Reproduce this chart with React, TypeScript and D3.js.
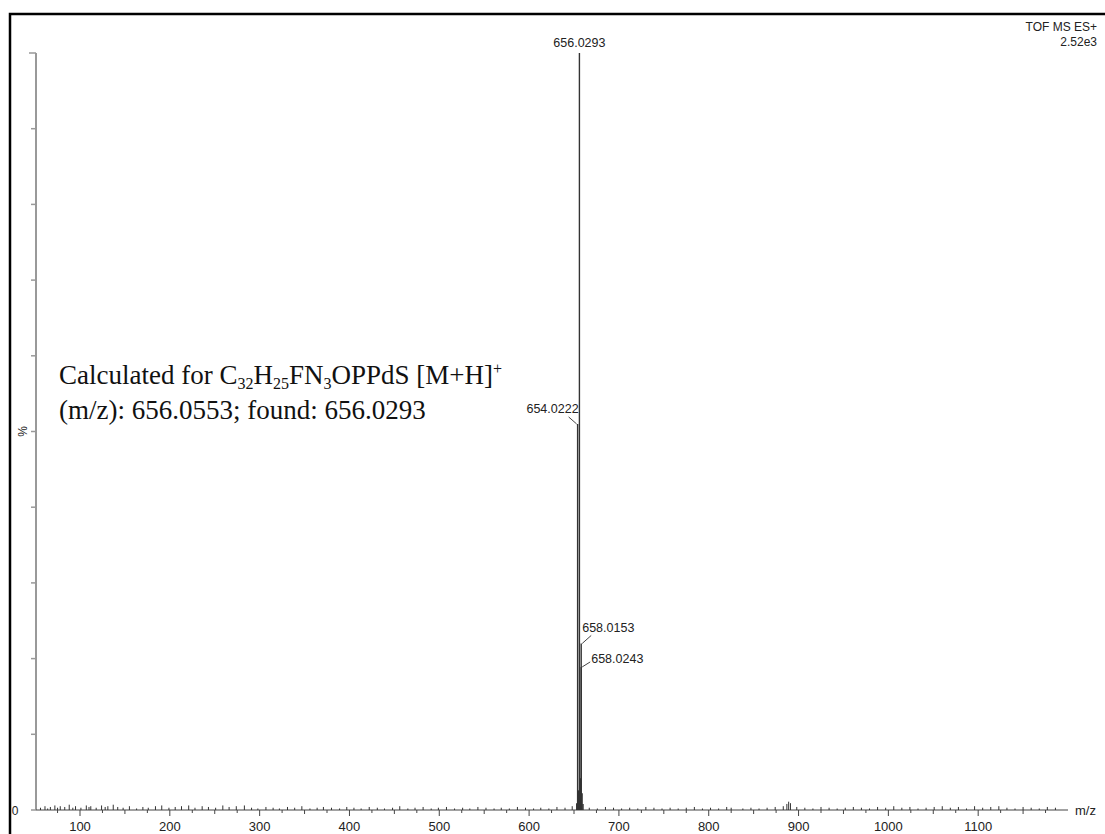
import React from 'react';
import * as d3 from 'd3';

// main isotope cluster (m/z, relative intensity %)
const peakMz = [653.03, 654.0222, 655.03, 656.0293, 657.03, 658.0153, 658.0243, 659.02, 660.02];
const peakInt = [0.9, 51, 2.6, 100, 4.2, 22, 18.9, 2.2, 0.8];

// labelled peaks and which way the label hangs
const labels = [
  { mz: 656.0293, text: '656.0293', side: 'top' },
  { mz: 654.0222, text: '654.0222', side: 'left' },
  { mz: 658.0153, text: '658.0153', side: 'right' },
  { mz: 658.0243, text: '658.0243', side: 'rightLow' },
];

// baseline noise [m/z, %]
const noise: [number, number][] = [
  [56, 0.3], [61, 0.5], [64, 0.2], [67, 0.4], [72, 0.6], [75, 0.3], [78, 0.5], [83, 0.4], [88, 0.7], [92, 0.3],
  [95, 0.5], [101, 0.3], [107, 0.6], [110, 0.4], [112, 0.5], [118, 0.3], [124, 0.6], [128, 0.4], [131, 0.5],
  [137, 0.7], [142, 0.4], [148, 0.3], [155, 0.5], [163, 0.2], [170, 0.4], [176, 0.3], [184, 0.5], [191, 0.6],
  [199, 0.3], [206, 0.4], [213, 0.5], [221, 0.6], [228, 0.3], [236, 0.5], [243, 0.4], [251, 0.3], [259, 0.6],
  [266, 0.4], [274, 0.5], [283, 0.6], [291, 0.3], [298, 0.2], [307, 0.4], [315, 0.3], [322, 0.2], [331, 0.4],
  [339, 0.3], [347, 0.5], [356, 0.2], [364, 0.3], [371, 0.4], [380, 0.3], [389, 0.2], [397, 0.4], [405, 0.3],
  [413, 0.2], [422, 0.4], [431, 0.3], [439, 0.2], [448, 0.3], [456, 0.5], [465, 0.2], [473, 0.3], [482, 0.4],
  [491, 0.2], [499, 0.3], [508, 0.4], [517, 0.2], [526, 0.3], [534, 0.2], [543, 0.4], [552, 0.3], [561, 0.2],
  [569, 0.3], [578, 0.2], [587, 0.4], [596, 0.3], [605, 0.2], [613, 0.3], [622, 0.2], [631, 0.4], [640, 0.3],
  [648, 0.5], [667, 0.3], [676, 0.2], [685, 0.4], [694, 0.3], [703, 0.2], [712, 0.3], [721, 0.2], [730, 0.4],
  [739, 0.3], [748, 0.2], [757, 0.3], [766, 0.2], [775, 0.3], [784, 0.4], [793, 0.2], [802, 0.3], [811, 0.2],
  [820, 0.4], [825, 0.3], [838, 0.2], [847, 0.3], [856, 0.2], [865, 0.3], [874, 0.4], [883, 0.5], [887, 0.8],
  [889, 1.1], [891, 0.9], [898, 0.4], [907, 0.3], [916, 0.2], [925, 0.4], [934, 0.3], [943, 0.2], [952, 0.3],
  [961, 0.4], [970, 0.3], [979, 0.2], [988, 0.4], [997, 0.3], [1006, 0.5], [1015, 0.3], [1024, 0.4], [1033, 0.2],
  [1042, 0.3], [1051, 0.4], [1060, 0.5], [1069, 0.3], [1078, 0.4], [1087, 0.2], [1096, 0.5], [1105, 0.3],
  [1114, 0.4], [1123, 0.5], [1132, 0.3], [1141, 0.2], [1150, 0.4], [1159, 0.3], [1168, 0.2], [1177, 0.4], [1186, 0.3],
];

const xMajor = [100, 200, 300, 400, 500, 600, 700, 800, 900, 1000, 1100];

const W = 1105;
const H = 834;

const App = () => {
  const x = d3.scaleLinear().domain([51, 1200]).range([36, 1068]);
  const y = d3.scaleLinear().domain([0, 100]).range([810, 53]);
  const yTicks = d3.range(0, 101, 10);
  const xMinor = d3.range(75, 1200, 25).filter((v) => v % 100 !== 0);

  const sans = 'Liberation Sans, Arial, sans-serif';
  const serif = 'Liberation Serif, Times New Roman, serif';
  const peakColor = '#333';

  return (
    <svg width={W} height={H} style={{ position: 'absolute', left: 0, top: 0, background: '#fff' }}>
      <rect x={10} y={14} width={W + 20} height={H + 20} fill="none" stroke="#000" strokeWidth={2.5} />

      {/* y axis */}
      <line x1={36} x2={36} y1={y(100)} y2={y(0)} stroke="#999" strokeWidth={2} />
      {yTicks.map((t) => (
        <line key={t} x1={t === 100 ? 29 : 31} x2={36} y1={y(t)} y2={y(t)} stroke="#999" strokeWidth={1.5} />
      ))}
      <text x={15} y={y(0) + 5} fontFamily={sans} fontSize={12} textAnchor="middle" fill="#222">0</text>
      <text transform={`translate(27,${y(50)}) rotate(-90)`} fontFamily={sans} fontSize={12} textAnchor="middle" fill="#222">%</text>

      {/* x axis */}
      <line x1={36} x2={1068} y1={y(0)} y2={y(0)} stroke="#444" strokeWidth={1} />
      {xMinor.map((t) => (
        <line key={t} x1={x(t)} x2={x(t)} y1={y(0)} y2={y(0) + (t % 50 === 0 ? 4 : 3)} stroke="#444" strokeWidth={1} />
      ))}
      {xMajor.map((t) => (
        <g key={t}>
          <line x1={x(t)} x2={x(t)} y1={y(0)} y2={y(0) + 6} stroke="#444" strokeWidth={1} />
          <text x={x(t)} y={y(0) + 21} fontFamily={sans} fontSize={13} textAnchor="middle" fill="#222">{t}</text>
        </g>
      ))}
      <text x={1075} y={y(0) + 5} fontFamily={sans} fontSize={13} fill="#222">m/z</text>

      {/* noise */}
      {noise.map(([m, v], i) => (
        <line key={i} x1={x(m)} x2={x(m)} y1={y(0)} y2={y(v)} stroke="#333" strokeWidth={1} />
      ))}

      {/* peaks */}
      {peakMz.map((m, i) => (
        <line key={m} x1={x(m)} x2={x(m)} y1={y(0)} y2={y(peakInt[i])} stroke={peakColor} strokeWidth={1.4} />
      ))}

      {/* peak labels */}
      {labels.map((l) => {
        const i = peakMz.indexOf(l.mz);
        const px = x(l.mz);
        const py = y(peakInt[i]);
        if (l.side === 'top') {
          return (
            <text key={l.text} x={px} y={py - 6} fontFamily={sans} fontSize={12.5} textAnchor="middle" fill="#222">{l.text}</text>
          );
        }
        if (l.side === 'left') {
          return (
            <g key={l.text}>
              <line x1={px - 1} y1={py} x2={px - 9} y2={py - 7} stroke="#444" strokeWidth={1} />
              <text x={px + 1} y={py - 11} fontFamily={sans} fontSize={12.5} textAnchor="end" fill="#222">{l.text}</text>
            </g>
          );
        }
        if (l.side === 'right') {
          return (
            <g key={l.text}>
              <line x1={px + 1} y1={py} x2={px + 10} y2={py - 8} stroke="#444" strokeWidth={1} />
              <text x={px + 1} y={py - 11} fontFamily={sans} fontSize={12.5} fill="#222">{l.text}</text>
            </g>
          );
        }
        return (
          <g key={l.text}>
            <line x1={px + 1} y1={py} x2={px + 9} y2={py - 5} stroke="#444" strokeWidth={1} />
            <text x={px + 10} y={py - 4} fontFamily={sans} fontSize={12.5} fill="#222">{l.text}</text>
          </g>
        );
      })}

      {/* instrument info */}
      <text x={1097} y={31} fontFamily={sans} fontSize={12} textAnchor="end" fill="#222">TOF MS ES+</text>
      <text x={1097} y={46} fontFamily={sans} fontSize={12} textAnchor="end" fill="#222">2.52e3</text>

      {/* annotation */}
      <text x={59} y={384} fontFamily={serif} fontSize={27} fill="#111">
        Calculated for C<tspan fontSize={16} dy={5}>32</tspan>
        <tspan dy={-5}>H</tspan><tspan fontSize={16} dy={5}>25</tspan>
        <tspan dy={-5}>FN</tspan><tspan fontSize={16} dy={5}>3</tspan>
        <tspan dy={-5}>OPPdS [M+H]</tspan><tspan fontSize={16} dy={-10}>+</tspan>
      </text>
      <text x={59} y={419} fontFamily={serif} fontSize={27} fill="#111">(m/z): 656.0553; found: 656.0293</text>
    </svg>
  );
};

export default App;
